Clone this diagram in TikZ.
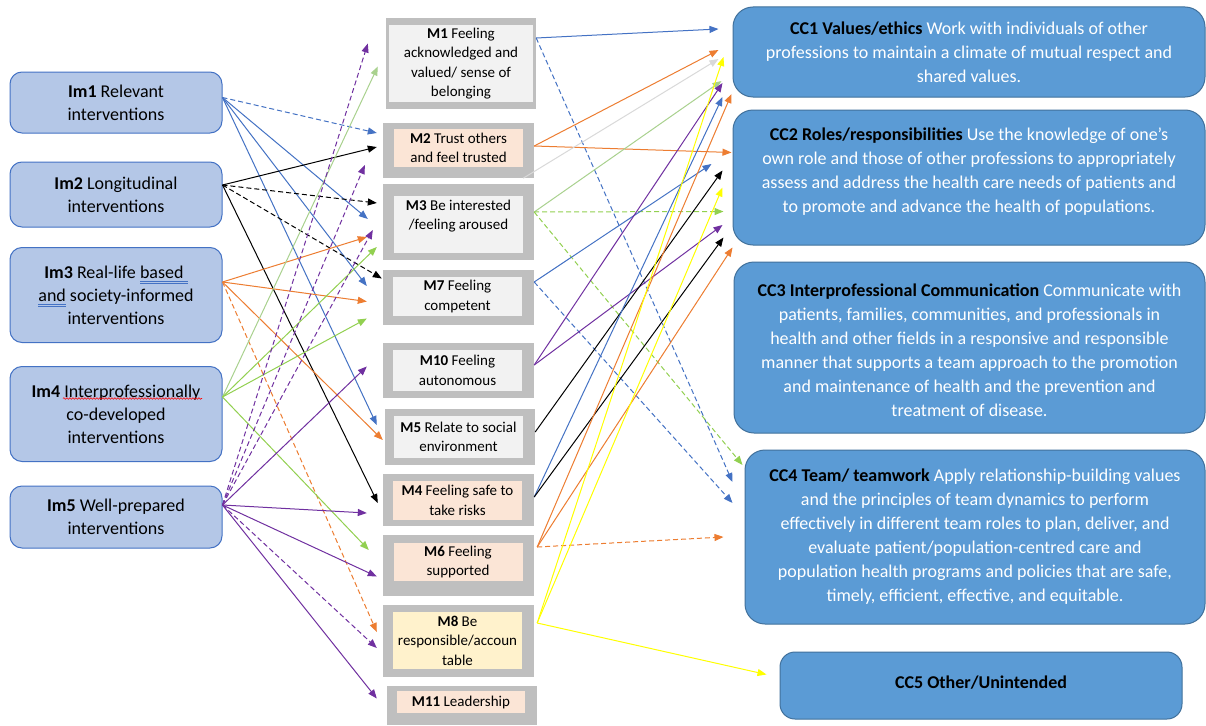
\documentclass[tikz,border=0pt]{standalone}
\usepackage{fontspec}
\setmainfont{Carlito}
\usetikzlibrary{arrows.meta,decorations.pathmorphing}

\definecolor{imfill}{HTML}{B4C7E7}
\definecolor{imline}{HTML}{4472C4}
\definecolor{ccfill}{HTML}{5B9BD5}
\definecolor{ccline}{HTML}{41719C}
\definecolor{mgray}{HTML}{BFBFBF}
\definecolor{mlight}{HTML}{F2F2F2}
\definecolor{mpeach}{HTML}{FBE5D6}
\definecolor{myellow}{HTML}{FFF2CC}
\definecolor{lblue}{HTML}{4472C4}
\definecolor{lorange}{HTML}{ED7D31}
\definecolor{lgreen}{HTML}{92D050}
\definecolor{lpale}{HTML}{A9D18E}
\definecolor{lpurple}{HTML}{7030A0}
\definecolor{lyellow}{HTML}{FFFF00}
\definecolor{lgray}{HTML}{D9D9D9}
\definecolor{ulblue}{HTML}{4472C4}

% double underline for the grammar marks
\newcommand{\gramul}[1]{\setbox0\hbox{#1}%
  \rlap{\color{ulblue}\rule[-3.5pt]{\wd0}{0.7pt}}%
  \rlap{\color{ulblue}\rule[-5.5pt]{\wd0}{0.7pt}}\box0\relax}

\begin{document}
\begin{tikzpicture}[x=1pt, y=-1pt,
    imbox/.style={draw=imline, fill=imfill, rounded corners=12pt, line width=1pt,
      minimum width=212pt, align=center, font=\fontsize{18}{23}\selectfont},
    mframe/.style={fill=mgray, minimum width=151pt, inner sep=0pt},
    mtext/.style={fill=#1, minimum width=129pt, inner sep=0pt, align=center,
      font=\fontsize{15}{19.5}\selectfont},
    ccbox/.style={draw=ccline, fill=ccfill, rounded corners=20pt, line width=1pt,
      minimum width=472pt, inner sep=0pt},
    cctext/.style={align=center, text=white, font=\fontsize{18}{24}\selectfont},
    link/.style={line width=1pt, -{Triangle[length=9pt,width=7pt]}},
    dashlink/.style={link, dash pattern=on 5pt off 3pt}
  ]
  \fill[white] (0,0) rectangle (1206,725);
  \useasboundingbox (0,0) rectangle (1206,725);

  % interventions
  \node[imbox, minimum height=61pt] (im1) at (116,102.5) {\textbf{Im1} Relevant\\interventions};
  \node[imbox, minimum height=65pt] (im2) at (116,194.5) {\textbf{Im2} Longitudinal\\interventions};
  \node[imbox, minimum height=95pt] (im3) at (116,295) {\textbf{Im3} Real-life \gramul{based\ }\\\gramul{and}\ society-informed\\interventions};
  \node[imbox, minimum height=95pt] (im4) at (116,414) {\textbf{Im4} Interprofessionally\\co-developed\\interventions};
  \node[imbox, minimum height=62pt] (im5) at (116,517) {\textbf{Im5} Well-prepared\\interventions};
  \draw[red, line width=0.6pt, decorate, decoration={snake, amplitude=0.8pt, segment length=3pt}]
    (63,398.5) -- (202,398.5);

  % mechanisms
  \node[mframe, minimum width=150pt, minimum height=91pt] (m1) at (461,63.5) {};
  \node[mtext=mlight, minimum width=144pt, minimum height=77pt] (m1t) at (m1.center) {\textbf{M1} Feeling\\acknowledged and\\valued/ sense of\\belonging};
  \node[mframe, minimum height=55pt] (m2) at (458.5,150.5) {};
  \node[mtext=mpeach, minimum height=38pt] (m2t) at (458.5,148) {\textbf{M2} Trust others\\and feel trusted};
  \node[mframe, minimum height=76pt] (m3) at (458.5,222) {};
  \node[mtext=mlight, minimum height=57pt] (m3t) at (458.5,224.5) {\textbf{M3} Be interested\\/feeling aroused\\\mbox{}};
  \node[mframe, minimum height=55pt] (m7) at (458.5,297.5) {};
  \node[mtext=mlight, minimum height=39pt] (m7t) at (457.5,296.5) {\textbf{M7} Feeling\\competent};
  \node[mframe, minimum height=55pt] (m10) at (458.5,370.5) {};
  \node[mtext=mlight, minimum height=41pt] (m10t) at (457.5,370.5) {\textbf{M10} Feeling\\autonomous};
  \node[mframe, minimum width=150pt, minimum height=56pt] (m5) at (460,437) {};
  \node[mtext=mlight, minimum height=42pt] (m5t) at (458.5,437) {\textbf{M5} Relate to social\\environment};
  \node[mframe, minimum height=52pt] (m4) at (458.5,500) {};
  \node[mtext=mpeach, minimum height=39pt] (m4t) at (457.5,500.5) {\textbf{M4} Feeling safe to\\take risks};
  \node[mframe, minimum height=61pt] (m6) at (458.5,565.5) {};
  \node[mtext=mpeach, minimum height=38pt] (m6t) at (458,562) {\textbf{M6} Feeling\\supported};
  \node[mframe, minimum height=72pt] (m8) at (458.5,641) {};
  \node[mtext=myellow, minimum height=57pt] (m8t) at (457.5,640.5) {\textbf{M8} Be\\responsible/accoun\\table};
  \node[mframe, minimum width=150pt, minimum height=39pt] (m11) at (462,705.5) {};
  \node[mtext=mpeach, minimum width=128pt, minimum height=22pt] (m11t) at (461,702) {\textbf{M11} Leadership};

  % competencies
  \node[ccbox, minimum height=90pt] (cc1) at (969,52) {};
  \node[cctext] (cc1t) at (cc1.center) {\textcolor{black}{\textbf{CC1 Values/ethics}} Work with individuals of other\\professions to maintain a climate of mutual respect and\\shared values.};
  \node[ccbox, minimum height=135pt] (cc2) at (969,177.5) {};
  \node[cctext] (cc2t) at ([yshift=6pt]cc2.center) {\textcolor{black}{\textbf{CC2 Roles/responsibilities}} Use the knowledge of one’s\\own role and those of other professions to appropriately\\assess and address the health care needs of patients and\\to promote and advance the health of populations.};
  \node[ccbox, minimum width=471pt, minimum height=171pt] (cc3) at (969.5,347.5) {};
  \node[cctext] (cc3t) at ([yshift=-2.5pt]cc3.center) {\textcolor{black}{\textbf{CC3 Interprofessional Communication}} Communicate with\\patients, families, communities, and professionals in\\health and other fields in a responsive and responsible\\manner that supports a team approach to the promotion\\and maintenance of health and the prevention and\\treatment of disease.};
  \node[ccbox, minimum width=460pt, minimum height=174pt] (cc4) at (975,537) {};
  \node[cctext] (cc4t) at (cc4.center) {\textcolor{black}{\textbf{CC4 Team/ teamwork}} Apply relationship-building values\\and the principles of team dynamics to perform\\effectively in different team roles to plan, deliver, and\\evaluate patient/population-centred care and\\population health programs and policies that are safe,\\timely, efficient, effective, and equitable.};
  \node[ccbox, rounded corners=15pt, minimum width=402pt, minimum height=67pt] (cc5) at (981,685.5) {};
  \node[cctext, text=black] (cc5t) at ([yshift=3pt]cc5.center) {\textbf{CC5 Other/Unintended}};

  % start points
  \coordinate (im1o) at ([yshift=5pt]im1.east);
  \coordinate (im2o) at ([yshift=9.5pt]im2.east);
  \coordinate (im3o) at ([yshift=13pt]im3.east);
  \coordinate (im4o) at ([yshift=17pt]im4.east);
  \coordinate (im5o) at ([yshift=12pt]im5.east);
  \coordinate (m1o) at ([yshift=25.5pt]m1.east);
  \coordinate (m2o) at ([yshift=4.5pt]m2.east);
  \coordinate (m2g) at ([xshift=-11pt]m2.south east);
  \coordinate (m3o) at ([yshift=10pt]m3.east);
  \coordinate (m7o) at ([yshift=15.5pt]m7.east);
  \coordinate (m10o) at ([yshift=5.5pt]m10.east);
  \coordinate (m5o) at ([yshift=5pt]m5.east);
  \coordinate (m4o) at ([yshift=3pt]m4.east);
  \coordinate (m6o) at ([xshift=3pt,yshift=18.5pt]m6.east);
  \coordinate (m8o) at ([xshift=3pt,yshift=18pt]m8.east);

  % interventions to mechanisms
  \draw[dashlink, lblue] (im1o) -- ([xshift=-6pt,yshift=17.5pt]m2.west);
  \draw[link, lblue] (im1o) -- ([xshift=-15pt,yshift=3pt]m3.west);
  \draw[link, lblue] (im1o) -- ([xshift=-16pt,yshift=11.5pt]m7.west);
  \draw[link, lblue] (im1o) -- ([xshift=-8pt,yshift=12pt]m5.west);

  \draw[link, black] (im2o) -- ([xshift=-6pt,yshift=3.5pt]m2.west);
  \draw[dashlink, black] (im2o) -- ([xshift=-6pt,yshift=19pt]m3.west);
  \draw[dashlink, black] (im2o) -- ([xshift=-1pt,yshift=19pt]m7.west);
  \draw[link, black] (im2o) -- ([xshift=-5pt,yshift=-3pt]m4.west);

  \draw[link, lorange] (im3o) -- ([xshift=-16pt,yshift=-15pt]m3.west);
  \draw[link, lorange] (im3o) -- ([xshift=-16pt,yshift=-4pt]m7.west);
  \draw[link, lorange] (im3o) -- ([xshift=-2pt,yshift=-3pt]m5.west);
  \draw[dashlink, lorange] (im3o) -- ([xshift=-6pt,yshift=9pt]m8.west);

  \draw[link, lpale] (im4o) -- ([xshift=-8pt,yshift=-3pt]m1.west);
  \draw[link, lgreen] (im4o) -- ([xshift=-6pt,yshift=-25pt]m3.west);
  \draw[link, lgreen] (im4o) -- ([xshift=-16pt,yshift=-21pt]m7.west);
  \draw[link, lgreen] (im4o) -- ([xshift=-14pt,yshift=15.5pt]m6.west);

  \draw[dashlink, lpurple] (im5o) -- ([xshift=-18pt,yshift=20pt]m1.west);
  \draw[dashlink, lpurple] (im5o) -- ([xshift=-18pt,yshift=-14.5pt]m2.west);
  \draw[dashlink, lpurple] (im5o) -- ([xshift=-10pt,yshift=-8pt]m3.west);
  \draw[link, lpurple] (im5o) -- ([xshift=-16pt,yshift=4pt]m10.west);
  \draw[link, lpurple] (im5o) -- ([xshift=-16pt,yshift=-13pt]m4.west);
  \draw[link, lpurple] (im5o) -- ([xshift=-6pt,yshift=-11pt]m6.west);
  \draw[dashlink, lpurple] (im5o) -- ([xshift=-6pt,yshift=-7pt]m8.west);
  \draw[link, lpurple] (im5o) -- ([xshift=-10pt,yshift=7pt]m11.west);

  % mechanisms to competencies
  \draw[link, lblue] (m1o) -- ([xshift=-14pt,yshift=23pt]cc1.west);
  \draw[dashlink, lblue] (m1o) -- ([xshift=-12pt,yshift=55pt]cc4.west);
  \draw[link, lorange] (m2o) -- ([xshift=-14pt,yshift=2pt]cc1.west);
  \draw[link, lorange] (m2o) -- ([xshift=-1pt,yshift=25pt]cc2.west);
  \draw[link, lgray] (m2g) -- ([xshift=-14pt,yshift=-7pt]cc1.west);
  \draw[link, lpale] (m3o) -- ([xshift=-11pt,yshift=-29pt]cc1.west);
  \draw[dashlink, lgreen] (m3o) -- ([xshift=-9pt,yshift=-34pt]cc2.west);
  \draw[dashlink, lgreen] (m3o) -- ([xshift=-2pt,yshift=72pt]cc4.west);
  \draw[link, lblue] (m7o) -- ([xshift=-21pt,yshift=13.5pt]cc2.west);
  \draw[dashlink, lblue] (m7o) -- ([xshift=-12pt,yshift=34pt]cc4.west);
  \draw[link, lpurple] (m10o) -- ([xshift=-10pt,yshift=-31pt]cc1.west);
  \draw[link, lpurple] (m10o) -- ([xshift=-10pt,yshift=-47.5pt]cc2.west);
  \draw[link, black] (m5o) -- ([xshift=-10pt,yshift=7pt]cc2.west);
  \draw[link, lblue] (m4o) -- ([xshift=-10pt,yshift=-45pt]cc1.west);
  \draw[link, black] (m4o) -- ([xshift=-9pt,yshift=-60pt]cc2.west);
  \draw[link, lorange] (m6o) -- ([xshift=-1pt,yshift=-42pt]cc1.west);
  \draw[link, lorange] (m6o) -- ([yshift=-70pt]cc2.west);
  \draw[dashlink, lorange] (m6o) -- ([xshift=-21pt]cc4.west);
  \draw[link, lyellow] (m8o) -- ([xshift=-9pt,yshift=-5pt]cc1.west);
  \draw[link, lyellow] (m8o) -- ([xshift=-10pt,yshift=-10pt]cc2.west);
  \draw[link, lyellow] (m8o) -- ([xshift=-13pt,yshift=11pt]cc5.west);
\end{tikzpicture}
\end{document}
